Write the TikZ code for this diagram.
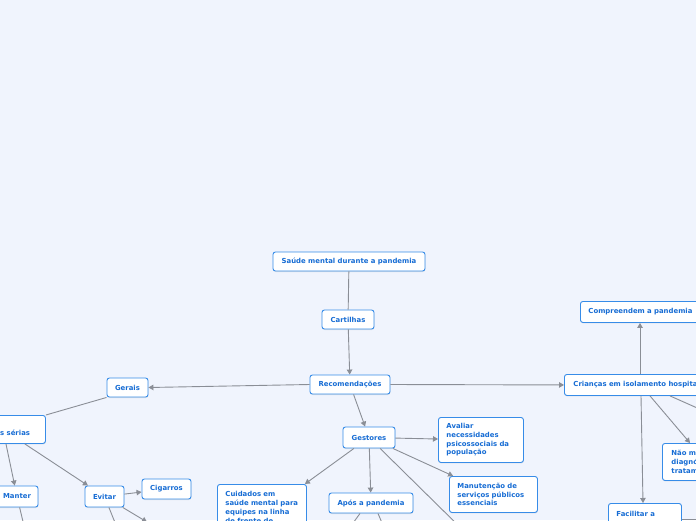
\documentclass[tikz,border=0pt]{standalone}
\usepackage{fontspec}
\newfontfamily\mmfont{DejaVu Sans}
\usetikzlibrary{arrows.meta,calc,shadows}
\definecolor{bg}{RGB}{240,244,253}
\definecolor{nodeborder}{RGB}{55,140,232}
\definecolor{nodetext}{RGB}{22,108,212}
\definecolor{edgecol}{RGB}{138,142,150}
\tikzset{
  mmfontstyle/.style={font=\mmfont\bfseries\fontsize{6.9}{8.7}\selectfont},
  mmbox/.style={draw=nodeborder, line width=0.9pt, fill=white, rounded corners=2.5pt,
    text=nodetext, mmfontstyle, inner sep=0pt,
    drop shadow={shadow xshift=0.3pt, shadow yshift=-1pt, opacity=0.18}},
  mmleft/.style={mmbox, align=left, anchor=north west},
  mmlabel/.style={text=nodetext, mmfontstyle, inner sep=0pt},
  conn/.style={draw=edgecol, line width=0.9pt},
  arr/.style={conn, -{Triangle[length=5pt,width=5.5pt]}},
}
\begin{document}
\begin{tikzpicture}[x=1pt,y=-1pt]
\fill[bg] (0,0) rectangle (696,520);
\useasboundingbox (0,0) rectangle (696,520);
\clip (0,0) rectangle (696,520);

% nodes
\node[mmbox, minimum width=152pt, minimum height=19pt] (saude) at (349,261.5) {Saúde mental durante a pandemia};
\node[mmbox, minimum width=52pt, minimum height=19pt] (cart) at (348,319.5) {Cartilhas};
\node[mmbox, minimum width=80pt, minimum height=19pt] (rec) at (350,384.5) {Recomendações};
\node[mmbox, minimum width=41pt, minimum height=19pt] (gerais) at (127.5,387.5) {Gerais};
\node[mmbox, minimum width=85pt, minimum height=28pt, anchor=north west] (serias) at (-40,415) {};
\node[mmlabel, anchor=west] (seriastxt) at (0,433) {s sérias};
\node[mmbox, minimum width=42pt, minimum height=21pt] (manter) at (17,496.5) {Manter};
\node[mmbox, minimum width=39pt, minimum height=21pt] (evitar) at (104.5,496.5) {Evitar};
\node[mmbox, minimum width=49pt, minimum height=20pt] (cig) at (166.5,489) {Cigarros};
\node[mmbox, minimum width=52pt, minimum height=21pt] (gest) at (369,437.5) {Gestores};
\node[mmleft, minimum width=89pt, minimum height=46pt, text width=73pt, inner xsep=8pt] (cuid) at (217,484)
  {Cuidados em\\saúde mental para\\equipes na linha\\de frente de};
\node[mmbox, minimum width=84pt, minimum height=20pt] (apos) at (371,503) {Após a pandemia};
\node[mmleft, minimum width=85pt, minimum height=45pt, text width=69pt, inner xsep=8pt] (aval) at (438,417)
  {Avaliar\\necessidades\\psicossociais da\\população};
\node[mmleft, minimum width=88pt, minimum height=36pt, text width=72pt, inner xsep=8pt] (manut) at (449,476)
  {Manutenção de\\serviços públicos\\essenciais};
\node[mmleft, minimum width=140pt, minimum height=21pt, text width=124pt, inner xsep=8pt] (comp) at (580,301)
  {Compreendem a pandemia};
\node[mmleft, minimum width=160pt, minimum height=21pt, text width=142pt, inner xsep=9pt] (cri) at (564,374)
  {Crianças em isolamento hospita};
\node[mmleft, minimum width=60pt, minimum height=37pt, text width=42pt, inner xsep=9pt] (naom) at (662,443)
  {Não m\\diagnó\\tratam};
\node[mmleft, minimum width=73pt, minimum height=28.7pt, text width=57pt, inner xsep=8pt] (facil) at (608,503)
  {Facilitar a\\\mbox{}};

% free ends
\coordinate (ev1) at (118,530);
\coordinate (ev2) at (147,522);
\coordinate (m1) at (25,530);
\coordinate (g1) at (468,535);
\coordinate (a1) at (348,530);
\coordinate (a2) at (385,530);
\coordinate (c1) at (722,419);
\coordinate (f1) at (712,519);

% connectors
\draw[conn] (saude) -- (cart);
\draw[arr] (cart) -- (rec);
\draw[arr] (rec.west) -- (gerais.east);
\draw[arr] (rec.east) -- (cri.west);
\draw[arr] (rec) -- (gest);
\draw[conn] (gerais.south west) -- (serias.north east);
\draw[arr] (serias) -- (manter);
\draw[arr] (serias) -- (evitar);
\draw[arr] (evitar) -- (cig);
\draw[arr] (evitar) -- (ev1);
\draw[arr] (evitar) -- (ev2);
\draw[arr] (manter) -- (m1);
\draw[arr] (gest) -- ($(cuid.north east)+(-2,0)$);
\draw[arr] (gest) -- (apos);
\draw[arr] (gest) -- (aval);
\draw[arr] (gest) -- (manut);
\draw[arr] (gest) -- (g1);
\draw[arr] ($(apos.south)+(-11,0)$) -- (a1);
\draw[arr] ($(apos.south)+(7,0)$) -- (a2);
\draw[arr] ($(cri.north west)+(76,0)$) -- ($(comp.south west)+(60,0)$);
\draw[arr] ($(cri.south west)+(86,0)$) -- ($(naom.north west)+(28,0)$);
\draw[arr] ($(cri.south west)+(77,0)$) -- ($(facil.north west)+(35,0)$);
\draw[arr] ($(cri.south west)+(106,0)$) -- (c1);
\draw[arr] ($(facil.north east)+(0,16)$) -- (f1);
\end{tikzpicture}
\end{document}
